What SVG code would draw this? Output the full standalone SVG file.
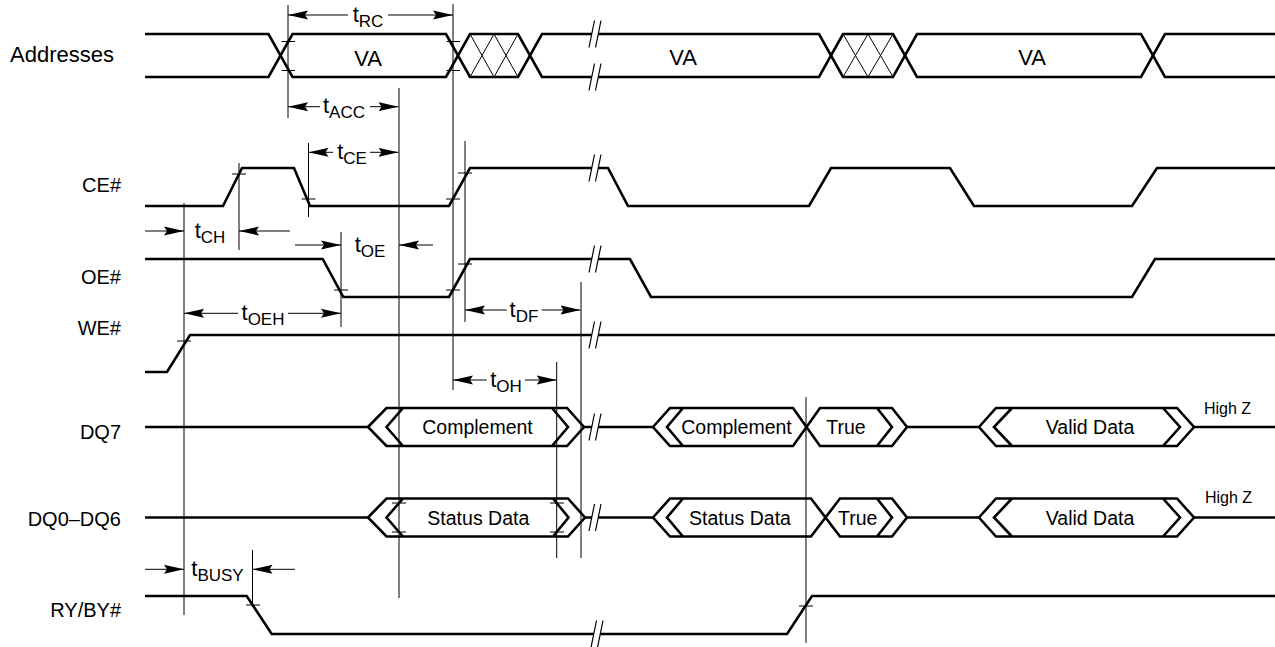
<svg xmlns="http://www.w3.org/2000/svg" width="1275" height="647" viewBox="0 0 1275 647">
<defs>
<style>
.sig{fill:none;stroke:#000;stroke-width:2.6;stroke-linejoin:miter}
.hat{fill:none;stroke:#000;stroke-width:1}
.ref{fill:none;stroke:#000;stroke-width:1}
.arr{fill:none;stroke:#000;stroke-width:1;marker-end:url(#ah)}
.lbl{font-family:"Liberation Sans",Arial,Helvetica,sans-serif;font-size:20px;fill:#000;text-anchor:end}
.dat{font-family:"Liberation Sans",Arial,Helvetica,sans-serif;font-size:19.5px;fill:#000;text-anchor:middle}
.va{font-family:"Liberation Sans",Arial,Helvetica,sans-serif;font-size:22px;fill:#000;text-anchor:middle}
.hz{font-family:"Liberation Sans",Arial,Helvetica,sans-serif;font-size:16px;fill:#000}
.tm{font-family:"Liberation Sans",Arial,Helvetica,sans-serif;font-size:22px;fill:#000;text-anchor:middle}
.sub{font-size:17px}
</style>
<marker id="ah" markerUnits="userSpaceOnUse" markerWidth="20" markerHeight="10" refX="20" refY="5" orient="auto">
<path d="M0,0.5 L20,5 L0,9.5 L3,5 Z" fill="#000"/>
</marker>
<g id="brk">
<polygon points="-6,13.5 -0.5,-13.5 6,-13.5 0.5,13.5" fill="#fff"/>
<path d="M-6,13.5 L-0.5,-13.5 M0.5,13.5 L6,-13.5" stroke="#000" stroke-width="1.2" fill="none"/>
</g>
</defs>
<rect width="1275" height="647" fill="#fff"/>

<g id="addresses">
<text class="lbl" x="10" y="62" style="text-anchor:start;font-size:22px">Addresses</text>
<path class="sig" d="M145,34 H268.5 L292.5,77 H446 L470,34 H518 L542,77 H819 L843,34 H893 L917,77 H1141 L1165,34 H1275"/>
<path class="sig" d="M145,77 H268.5 L292.5,34 H446 L470,77 H518 L542,34 H819 L843,77 H893 L917,34 H1141 L1165,77 H1275"/>
<path class="hat" d="M470,34 L494,77 M470,77 L494,34 M494,34 L518,77 M494,77 L518,34"/>
<path class="hat" d="M843,34 L868,77 M843,77 L868,34 M868,34 L893,77 M868,77 L893,34"/>
<text class="va" x="368" y="66">VA</text>
<text class="va" x="683" y="65">VA</text>
<text class="va" x="1032" y="65">VA</text>
</g>

<g id="ce">
<text class="lbl" x="121" y="192">CE#</text>
<path class="sig" d="M145,206 H223 L242,168 H294 L310,206 H449 L470,168 H608 L628,206 H809 L831,168 H950 L974,206 H1132 L1157,168 H1275"/>
</g>

<g id="oe">
<text class="lbl" x="121" y="284">OE#</text>
<path class="sig" d="M145,259 H322.7 L343.3,297 H449 L470,259 H630 L651,297 H1132 L1155,259 H1275"/>
</g>

<g id="we">
<text class="lbl" x="121" y="335">WE#</text>
<path class="sig" d="M145,372 H167 L190,335 H1275"/>
</g>

<g id="dq7">
<text class="lbl" x="121" y="439">DQ7</text>
<path class="sig" d="M145,427 H368 M584,427 H653 M907,427 H979 M1194,427 H1275"/>
<path class="sig" d="M368,427 L386.5,408 H567 L584,427 L567,446 H386.5 Z M403,408 L386.5,427 L403,446 M552,408 L568,427 L552,446"/>
<path class="sig" d="M653,427 L670,408 H793 L820,446 H892 L907,427 L892,408 H820 L793,446 H670 Z M683,408 L667,427 L683,446 M877,408 L892,427 L877,446"/>
<path class="sig" d="M979,427 L996,408 H1177 L1194,427 L1177,446 H996 Z M1012,408 L994,427 L1012,446 M1163,408 L1180,427 L1163,446"/>
<text class="dat" x="477.5" y="434">Complement</text>
<text class="dat" x="736.5" y="434">Complement</text>
<text class="dat" x="846" y="434">True</text>
<text class="dat" x="1090" y="434">Valid Data</text>
<text class="hz" x="1204" y="414">High Z</text>
</g>

<g id="dq06">
<text class="lbl" x="121" y="526">DQ0–DQ6</text>
<path class="sig" d="M145,517.5 H368 M585,517.5 H653 M907,517.5 H979 M1194,517.5 H1275"/>
<path class="sig" d="M368,517.5 L386.5,498.5 H568 L585,517.5 L568,536.5 H386.5 Z M403,498.5 L386.5,517.5 L403,536.5 M553,498.5 L568.5,517.5 L553,536.5"/>
<path class="sig" d="M653,517.5 L670,498.5 H811 L840,536.5 H892 L907,517.5 L892,498.5 H840 L811,536.5 H670 Z M683,498.5 L667,517.5 L683,536.5 M877,498.5 L892,517.5 L877,536.5"/>
<path class="sig" d="M979,517.5 L996,498.5 H1177 L1194,517.5 L1177,536.5 H996 Z M1012,498.5 L994,517.5 L1012,536.5 M1163,498.5 L1180,517.5 L1163,536.5"/>
<text class="dat" x="478.3" y="524.5">Status Data</text>
<text class="dat" x="740" y="524.5">Status Data</text>
<text class="dat" x="857.7" y="524.5">True</text>
<text class="dat" x="1090" y="524.5">Valid Data</text>
<text class="hz" x="1205" y="503">High Z</text>
</g>

<g id="ryby">
<text class="lbl" x="121" y="617">RY/BY#</text>
<path class="sig" d="M145,596 H246.7 L271.7,634 H787 L812,596 H1275"/>
</g>

<g id="breaks">
<use href="#brk" x="595" y="34"/>
<use href="#brk" x="595" y="77"/>
<use href="#brk" x="595" y="168"/>
<use href="#brk" x="595" y="259"/>
<use href="#brk" x="595" y="335"/>
<use href="#brk" x="595" y="427"/>
<use href="#brk" x="595" y="517.5"/>
<use href="#brk" x="597" y="634"/>
</g>

<g id="connectors">
<path class="ref" d="M184,203 V615 M239,163 V250 M288,5 V118 M308.5,143 V217 M341,232 V327 M399,88 V598 M453,4 V390 M465,141 V322 M581,282 V558 M556.7,362 V558 M252.5,550 V607 M806,397 V643"/>
<path class="ref" d="M281.5,41.5 H295 M281.5,70.5 H295 M446.5,41.5 H460 M446.5,70.5 H460 M232,174 H246 M301.5,199 H315.5 M446,199 H460 M458,173 H472 M334,290 H348 M446,290 H460 M458,264 H472 M177,341 H191 M392,503 H406 M392,532 H406 M550,503 H564 M550,532 H564 M246,605 H260 M799,606 H813"/>
<line class="arr" x1="348" y1="15" x2="288" y2="15"/>
<line class="arr" x1="388" y1="15" x2="453" y2="15"/>
<line class="arr" x1="320" y1="106.7" x2="288" y2="106.7"/>
<line class="arr" x1="370" y1="106.7" x2="398.5" y2="106.7"/>
<line class="arr" x1="333" y1="152.3" x2="308.5" y2="152.3"/>
<line class="arr" x1="370" y1="152.3" x2="398.5" y2="152.3"/>
<line class="arr" x1="145" y1="231" x2="184" y2="231"/>
<line class="arr" x1="290" y1="231" x2="239" y2="231"/>
<line class="arr" x1="295" y1="245" x2="341" y2="245"/>
<line class="arr" x1="433" y1="245" x2="399" y2="245"/>
<line class="arr" x1="238" y1="313.3" x2="184" y2="313.3"/>
<line class="arr" x1="288" y1="313.3" x2="341" y2="313.3"/>
<line class="arr" x1="506.7" y1="310" x2="465" y2="310"/>
<line class="arr" x1="541.7" y1="310" x2="580.5" y2="310"/>
<line class="arr" x1="486.7" y1="380" x2="453" y2="380"/>
<line class="arr" x1="525" y1="380" x2="556.7" y2="380"/>
<line class="arr" x1="145" y1="569.3" x2="184" y2="569.3"/>
<line class="arr" x1="295" y1="569.3" x2="252.5" y2="569.3"/>
<text class="tm" x="368" y="21.5">t<tspan class="sub" dy="5">RC</tspan></text>
<text class="tm" x="344" y="113">t<tspan class="sub" dy="5">ACC</tspan></text>
<text class="tm" x="352" y="158.5">t<tspan class="sub" dy="5">CE</tspan></text>
<text class="tm" x="210" y="238">t<tspan class="sub" dy="5">CH</tspan></text>
<text class="tm" x="370" y="252">t<tspan class="sub" dy="5">OE</tspan></text>
<text class="tm" x="263" y="320">t<tspan class="sub" dy="5">OEH</tspan></text>
<text class="tm" x="524" y="317">t<tspan class="sub" dy="5">DF</tspan></text>
<text class="tm" x="506" y="387">t<tspan class="sub" dy="5">OH</tspan></text>
<text class="tm" x="217.5" y="576">t<tspan class="sub" dy="5">BUSY</tspan></text>
</g>
</svg>
